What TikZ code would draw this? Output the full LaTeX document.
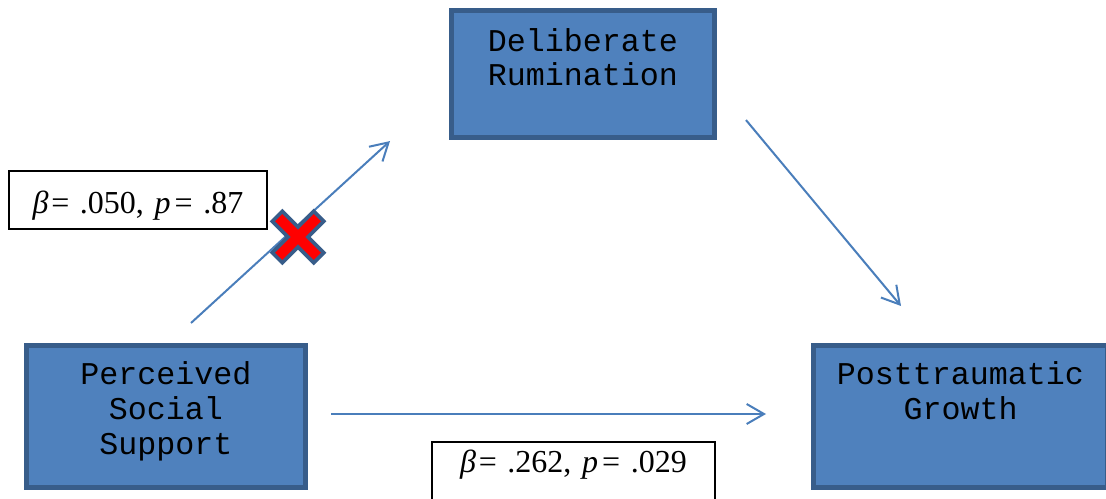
\documentclass[tikz,border=0pt]{standalone}
\usepackage{fontspec}
\setmainfont{Liberation Serif}
\setmonofont{Liberation Mono}
\usetikzlibrary{arrows.meta,calc}
\definecolor{boxfill}{HTML}{4F81BD}
\definecolor{boxline}{HTML}{385D8A}
\definecolor{linkblue}{HTML}{4A7EBB}
\begin{document}
\begin{tikzpicture}[
		    x=0.75pt, y=-0.75pt,
		    var/.style={rectangle, draw=boxline, fill=boxfill, line width=3.75pt, inner sep=0pt, align=center, anchor=north, font=\fontsize{23.75}{26}\selectfont\ttfamily},
		    stat/.style={rectangle, draw=black, line width=1.5pt, inner sep=0pt, align=center, anchor=north, font=\fontsize{24}{28}\selectfont},
		    link/.style={draw=linkblue, line width=1.5pt, -{Straight Barb[length=13pt,width=15pt]}}]
			\useasboundingbox (0,0) rectangle (1106,499);
			\node [var, text width=197.25pt, text height=30.4pt, text depth=64.9pt] (dr) at (583,8) {Deliberate\\Rumination};
			\node [var, text width=209.25pt, text height=29.6pt, text depth=76.9pt] (pss) at (166,343) {Perceived\\Social\\Support};
			\node [var, text width=220.5pt, text height=29.6pt, text depth=76.9pt] (ptg) at (960.5,343) {Posttraumatic\\Growth};
			\node [stat, text width=193.5pt, text height=31.5pt, text depth=12pt] (b1) at (138,170) {{\itshape β}\kern2pt= .050, {\itshape p}\kern3pt= .87};
			\node [stat, text width=212.25pt, text height=22.5pt, text depth=30pt] (b2) at (573.5,441) {{\itshape β}\kern2pt= .262, {\itshape p}\kern3pt= .029};
			\draw [link] ($(pss.north)+(25,-20)$) -- ($(dr.south west)+(-59,1)$);
			\draw [link] ($(dr.south east)+(29,-20)$) -- ($(ptg.north west)+(90,-37)$);
			\draw [link] ($(pss.east)+(23,-2.5)$) -- ($(ptg.west)+(-45,-2.5)$);
			\draw [draw=boxline, line width=13.5pt, line join=round] (276,215) -- (320,259) (320,215) -- (276,259);
			\draw [draw=red, line width=7.5pt] (278.7,217.7) -- (317.3,256.3) (317.3,217.7) -- (278.7,256.3);
		\end{tikzpicture}
\end{document}
